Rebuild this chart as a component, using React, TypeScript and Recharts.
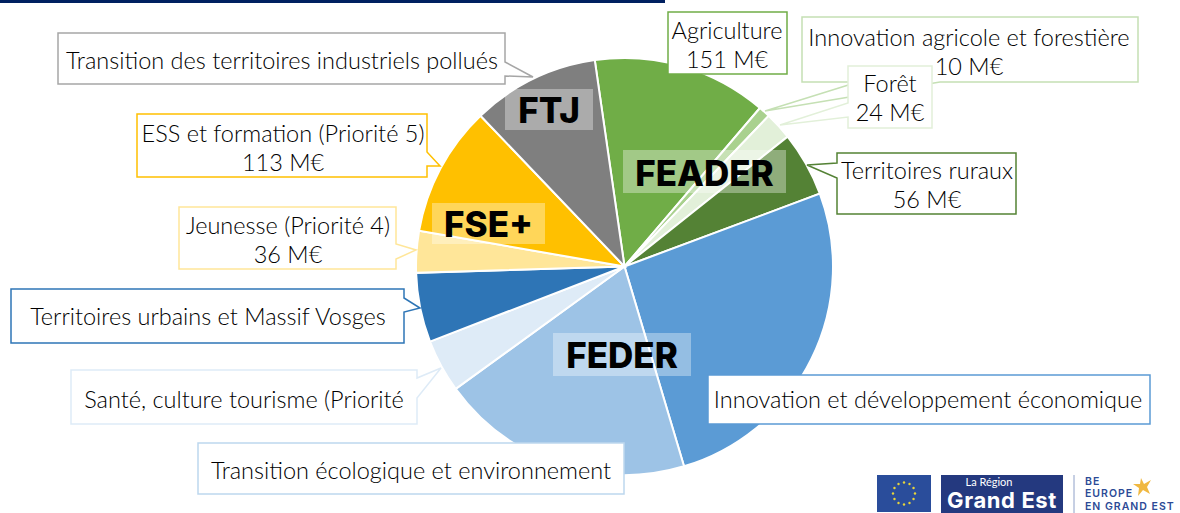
import { Pie, PieChart, Cell } from "recharts";

const FONT = "Lato, 'Noto Sans', sans-serif";

// Programme envelopes in M€, clockwise from the top of the pie
const CATEGORIES = [
  "Agriculture",
  "Innovation agricole et forestière",
  "Forêt",
  "Territoires ruraux",
  "Innovation et développement économique",
  "Transition écologique et environnement",
  "Santé, culture tourisme",
  "Territoires urbains et Massif Vosges",
  "Jeunesse",
  "ESS et formation",
  "Transition des territoires industriels pollués",
];
const VALUES = [151, 10, 24, 56, 291, 219, 46, 60, 36, 113, 110];
const COLORS = ["#70ad47", "#a9d18e", "#e2f0d9", "#548235", "#5b9bd5", "#9dc3e6", "#deebf7", "#2e75b6", "#ffe699", "#ffc000", "#7f7f7f"];
const LABEL_LINES = [
  ["Agriculture", "151 M€"],
  ["Innovation agricole et forestière", "10 M€"],
  ["Forêt", "24 M€"],
  ["Territoires ruraux", "56 M€"],
  ["Innovation et développement économique"],
  ["Transition écologique et environnement"],
  ["Santé, culture tourisme (Priorité"],
  ["Territoires urbains et Massif Vosges"],
  ["Jeunesse (Priorité 4)", "36 M€"],
  ["ESS et formation (Priorité 5)", "113 M€"],
  ["Transition des territoires industriels pollués"],
];
const FUNDS = ["FTJ", "FEADER", "FSE+", "FEDER"];

const rows = CATEGORIES.map((name, i) => ({ name, value: VALUES[i] }));

// Callout outlines: box path points including the pointer, text centre and first baseline
const CALLOUTS = [
  { pts: "668,12 787,12 787,74 668,74", stroke: "#70ad47", cx: 727, y: 39 },
  { pts: "802,17 1138,17 1138,82 940,82 765,111 858,82 802,82", stroke: "#c5e0b4", cx: 969, y: 46 },
  { pts: "848,66 932,66 932,128 848,128 848,117 780,125 848,103", stroke: "#e2f0d9", cx: 890, y: 92 },
  { pts: "837,153 1016,153 1016,214 837,214 837,178 807,165 837,163", stroke: "#548235", cx: 927, y: 179 },
  { pts: "708,375 1150,375 1150,424 708,424", stroke: "#5b9bd5", cx: 928, y: 408 },
  { pts: "198,443 624,443 624,494 198,494", stroke: "#bdd7ee", cx: 411, y: 479 },
  { pts: "71,370 417,370 417,378 441,368 417,398 417,424 71,424", stroke: "#deebf7", cx: 244, y: 408 },
  { pts: "11,289 404,289 404,298 420,308 404,312 404,343 11,343", stroke: "#2e75b6", cx: 208, y: 325 },
  { pts: "179,207 396,207 396,244 416,250 396,259 396,269 179,269", stroke: "#ffe699", cx: 288, y: 234 },
  { pts: "137,114 427,114 427,152 440,166 427,166 427,177 137,177", stroke: "#ffc000", cx: 283, y: 142 },
  { pts: "58,33 505,33 505,62 533,77 505,76 505,84 58,84", stroke: "#a6a6a6", cx: 282, y: 69 },
];
const FUND_BOXES = [
  { x: 505, y: 89, w: 88, h: 41, cy: 123 },
  { x: 623, y: 150, w: 163, h: 43, cy: 186 },
  { x: 432, y: 203, w: 113, h: 41, cy: 237 },
  { x: 553, y: 333, w: 138, h: 43, cy: 368 },
];
const EU_STARS = [0, 30, 60, 90, 120, 150, 180, 210, 240, 270, 300, 330];

function Callout({ index }: { index: number }) {
  const c = CALLOUTS[index];
  return (
    <g>
      <polygon points={c.pts} fill="#fff" stroke={c.stroke} strokeWidth={1.5} />
      {LABEL_LINES[index].map((line, i) => (
        <text key={i} x={c.cx} y={c.y + i * 29} textAnchor="middle" fontFamily={FONT} fontWeight={300} fontSize={23.5} fill="#000">
          {line}
        </text>
      ))}
    </g>
  );
}

export default function App() {
  return (
    <div style={{ position: "absolute", left: 0, top: 0, width: 1180, height: 513, background: "#fff", overflow: "hidden" }}>
      <PieChart width={1180} height={513} margin={{ top: 0, right: 0, bottom: 0, left: 0 }}>
        <Pie
          data={rows}
          dataKey="value"
          nameKey="name"
          cx={624.5}
          cy={266.5}
          outerRadius={208.5}
          startAngle={98.2}
          endAngle={-261.8}
          stroke="#fff"
          strokeWidth={2}
          labelLine={false}
          label={(p: any) => <Callout index={p.index} />}
          isAnimationActive={false}
        >
          {rows.map((r, i) => (
            <Cell key={r.name} fill={COLORS[i]} />
          ))}
        </Pie>
      </PieChart>

      {/* fund names, top bar and logos sit above the chart */}
      <svg width={1180} height={513} style={{ position: "absolute", left: 0, top: 0 }}>
        <rect x={0} y={0} width={665} height={3} fill="#002060" />
        {FUNDS.map((f, i) => {
          const b = FUND_BOXES[i];
          return (
            <g key={f}>
              <rect x={b.x} y={b.y} width={b.w} height={b.h} fill="#fff" fillOpacity={0.35} />
              <text x={b.x + b.w / 2} y={b.cy} textAnchor="middle" fontFamily="Inter, sans-serif" fontWeight={800} fontSize={35} fill="#000">
                {f}
              </text>
            </g>
          );
        })}

        <rect x={877} y={475} width={54} height={37} fill="#2a4d9b" />
        {EU_STARS.map((a) => (
          <circle
            key={a}
            cx={904 + 11 * Math.cos((a * Math.PI) / 180)}
            cy={493.5 + 11 * Math.sin((a * Math.PI) / 180)}
            r={1.2}
            fill="#e8d53a"
          />
        ))}
        <rect x={941} y={475} width={122} height={38} fill="#24397f" />
        <text x={989} y={486} textAnchor="middle" fontFamily={FONT} fontSize={11} fill="#fff">La Région</text>
        <text x={1002} y={508} textAnchor="middle" fontFamily="Inter, sans-serif" fontWeight={700} fontSize={22} letterSpacing={0.6} fill="#fff">Grand Est</text>
        <line x1={1074} y1={475} x2={1074} y2={513} stroke="#8ea0c8" strokeWidth={1} />
        <g fontFamily="Inter, sans-serif" fontWeight={600} fontSize={10.5} letterSpacing={1} fill="#2c4a96">
          <text x={1085} y={484.5}>BE</text>
          <text x={1085} y={497.3}>EUROPE</text>
          <text x={1085} y={510}>EN GRAND EST</text>
        </g>
        <polygon points="1141,478 1144,484 1151,480 1147,487 1150,494 1143,490 1138,496 1139,488 1133,484 1140,484" fill="#f0b840" />
      </svg>
    </div>
  );
}
